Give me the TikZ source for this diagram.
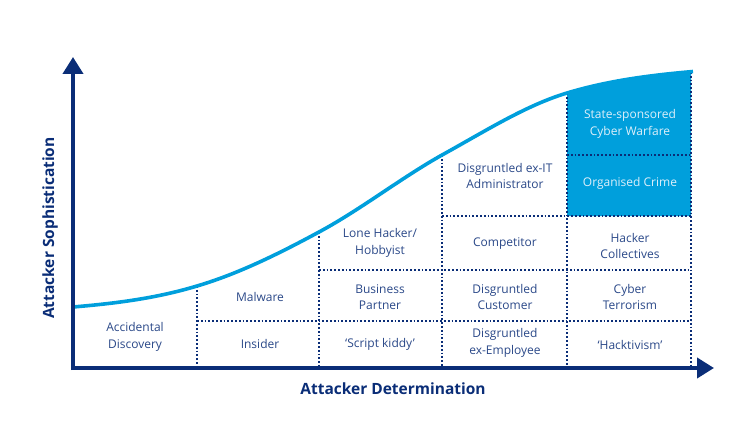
\documentclass[tikz,border=0pt]{standalone}
\usepackage{fontspec}
\setmainfont{Open Sans}
\usetikzlibrary{arrows.meta}
\definecolor{navy}{HTML}{0A2D77}
\definecolor{txtblue}{HTML}{2A4888}
\definecolor{skyb}{HTML}{009FDC}
\definecolor{lighttxt}{HTML}{DDEFFA}
\tikzset{
  x=1pt,y=-1pt,
  axisline/.style={draw=navy,line width=4pt,-{Triangle[width=20pt,length=17pt]}},
  gridline/.style={draw=navy,line width=1.2pt,dash pattern=on 1.8pt off 2pt},
  cell/.style={text=txtblue,font=\fontsize{12}{16.5}\selectfont,align=center,inner sep=0pt},
  cellw/.style={cell,text=lighttxt},
  curve/.style={draw=skyb,line width=3.6pt},
  axlabel/.style={text=navy,font=\fontsize{15.5}{18}\selectfont\bfseries,inner sep=0pt}
}
\begin{document}
\begin{tikzpicture}
\useasboundingbox (0,0) rectangle (755,428);
% curve points
\coordinate (p0) at (73,307);
\coordinate (p1) at (197,286);
\coordinate (p2) at (319,232);
\coordinate (p3) at (442,155);
\coordinate (p4) at (567,93);
\coordinate (p5) at (691,72);
% filled region
\fill[skyb] (p4) .. controls (608.3,80.6) and (649.7,75.3) .. (p5) -- (691,216) -- (567,216) -- cycle;
% grid
\coordinate (b1) at (197,368);
\coordinate (b2) at (319,368);
\coordinate (b3) at (442,368);
\coordinate (b4) at (567,368);
\coordinate (b5) at (691,368);
\draw[gridline] (p1) -- (b1);
\draw[gridline] (p2) -- (b2);
\draw[gridline] (p3) -- (b3);
\draw[gridline] (p4) -- (b4);
\draw[gridline] (p5) -- (b5);
\coordinate (h1a) at (197,321); \coordinate (h1b) at (691,321);
\coordinate (h2a) at (319,270); \coordinate (h2b) at (691,270);
\coordinate (h3a) at (442,216); \coordinate (h3b) at (691,216);
\coordinate (h4a) at (567,155); \coordinate (h4b) at (691,155);
\draw[gridline] (h1a) -- (h1b);
\draw[gridline] (h2a) -- (h2b);
\draw[gridline] (h3a) -- (h3b);
\draw[gridline] (h4a) -- (h4b);
% curve
\draw[curve] (p0) .. controls (114.3,303.5) and (155.7,298.5) .. (p1)
  .. controls (237.7,274) and (278.3,254) .. (p2)
  .. controls (360,210) and (401,178) .. (p3)
  .. controls (483.7,132.1) and (525.3,105.5) .. (p4)
  .. controls (608.3,80.6) and (649.7,75.3) .. (693,71.5);
% axes
\coordinate (o) at (73,370);
\coordinate (ytip) at (73,57);
\coordinate (xtip) at (714,368);
\coordinate (ostart) at (71,368);
\draw[axisline] (o) -- (ytip);
\draw[axisline] (ostart) -- (xtip);
% labels
\node[cell] (accd) at (135,337) {Accidental\\Discovery};
\node[cell] (malw) at (260,297) {Malware};
\node[cell] (insd) at (260,344) {Insider};
\node[cell] (lone) at (380,243) {Lone Hacker/\\Hobbyist};
\node[cell] (busp) at (380,297) {Business\\Partner};
\node[cell] (scrk) at (380,344) {‘Script kiddy’};
\node[cell] (exit) at (505,176) {Disgruntled ex-IT\\Administrator};
\node[cell] (comp) at (505,244) {Competitor};
\node[cell] (cust) at (505,297) {Disgruntled\\Customer};
\node[cell] (exem) at (505,343) {Disgruntled\\ex-Employee};
\node[cellw] (stat) at (630,124) {State-sponsored\\Cyber Warfare};
\node[cellw] (orgc) at (630,183) {Organised Crime};
\node[cell] (hack) at (630,246) {Hacker\\Collectives};
\node[cell] (terr) at (630,297) {Cyber\\Terrorism};
\node[cell] (hktv) at (630,345) {‘Hacktivism’};
\node[axlabel] (xlab) at (393,389) {Attacker Determination};
\node[axlabel,rotate=90] (ylab) at (50,228) {Attacker Sophistication};
\end{tikzpicture}
\end{document}
